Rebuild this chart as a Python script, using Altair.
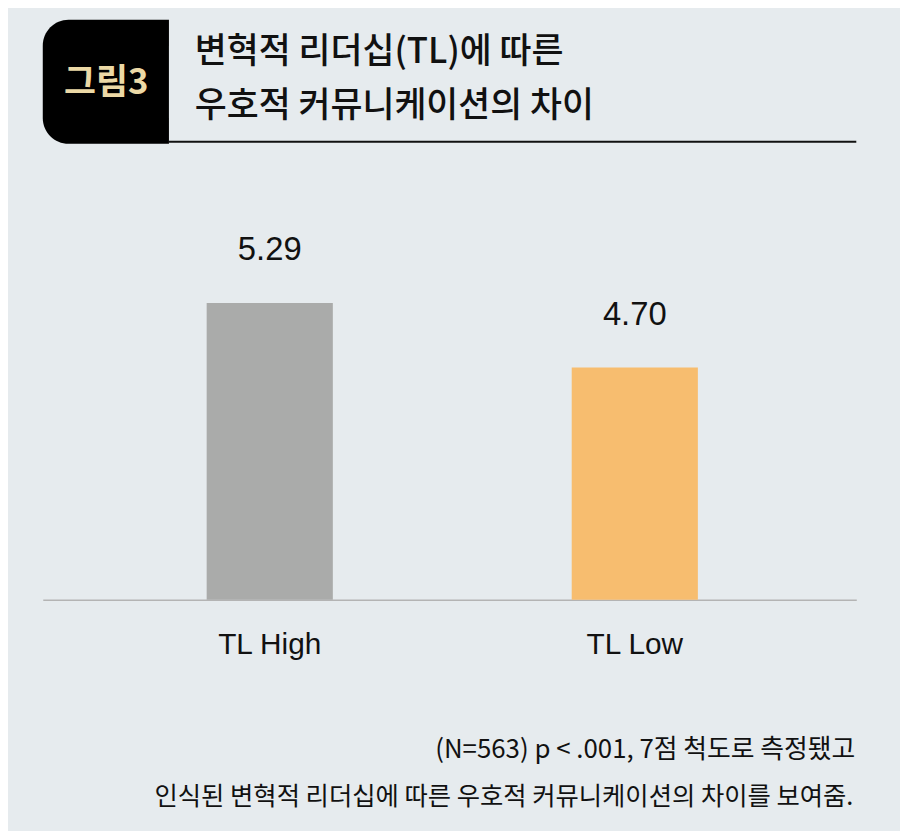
import altair as alt
import pandas as pd

# ---- data ----
categories = ["TL High", "TL Low"]
values = [5.29, 4.70]
value_labels = ["5.29", "4.70"]
bar_colors = ["#aaabaa", "#f7bd6f"]

title_lines = ["변혁적 리더십(TL)에 따른", "우호적 커뮤니케이션의 차이"]
badge_text = "그림3"
note_lines = ["(N=563) p < .001, 7점 척도로 측정됐고",
              "인식된 변혁적 리더십에 따른 우호적 커뮤니케이션의 차이를 보여줌."]

Y_MIN, Y_MAX = 2.58, 6.67
W, H = 819, 451
BG = "#e6ebee"
NUM_FONT = "Liberation Sans Narrow, Liberation Sans, Arial"
KR_FONT = "Noto Sans CJK KR"

df = pd.DataFrame({"cat": categories, "val": values, "lab": value_labels, "col": bar_colors})

xscale = alt.Scale(paddingInner=0.6544, paddingOuter=0.4415, align=0.5085)
xenc = alt.X("cat:N", sort=categories, title=None, scale=xscale,
             axis=alt.Axis(labelAngle=0, ticks=False, domainColor="#b4b4b4", domainWidth=1.5,
                           labelFont=NUM_FONT, labelFontSize=30, labelColor="#111111",
                           labelPadding=30, grid=False))
yenc = alt.Y("val:Q", scale=alt.Scale(domain=[Y_MIN, Y_MAX], zero=False, clamp=True), axis=None)

bars = alt.Chart(df).mark_bar().encode(
    x=xenc, y=yenc, y2=alt.datum(Y_MIN),
    color=alt.Color("col:N", scale=None),
)

labels = alt.Chart(df).mark_text(font=NUM_FONT, fontSize=33, color="#111111", dy=-53,
                                 baseline="middle").encode(
    x=alt.X("cat:N", sort=categories, scale=xscale), y=yenc, text="lab:N")

one = pd.DataFrame({"k": [0]})

badge = alt.Chart(one).mark_rect(color="#000000", cornerRadiusTopLeft=26,
                                 cornerRadiusBottomLeft=26).encode(
    x=alt.value(0), x2=alt.value(127), y=alt.value(-133), y2=alt.value(-8))

badge_lbl = alt.Chart(one).mark_text(font=KR_FONT, fontSize=35, fontWeight="bold",
                                     color="#ecd9a6", align="center", baseline="middle").encode(
    x=alt.value(64), y=alt.value(-69), text=alt.value(badge_text))

title_rule = alt.Chart(one).mark_rule(color="#111111", strokeWidth=2).encode(
    x=alt.value(127), x2=alt.value(W), y=alt.value(-10))

t1 = alt.Chart(one).mark_text(font=KR_FONT, fontSize=35, fontWeight=500, color="#111111",
                              align="left", baseline="middle").encode(
    x=alt.value(153), y=alt.value(-100), text=alt.value(title_lines[0]))
t2 = alt.Chart(one).mark_text(font=KR_FONT, fontSize=35, fontWeight=500, color="#111111",
                              align="left", baseline="middle").encode(
    x=alt.value(153), y=alt.value(-46), text=alt.value(title_lines[1]))

n1 = alt.Chart(one).mark_text(font=KR_FONT, fontSize=26, color="#111111",
                              align="right", baseline="middle").encode(
    x=alt.value(818), y=alt.value(602), text=alt.value(note_lines[0]))
n2 = alt.Chart(one).mark_text(font=KR_FONT, fontSize=25.5, color="#111111",
                              align="right", baseline="middle").encode(
    x=alt.value(816), y=alt.value(650), text=alt.value(note_lines[1]))

chart = alt.layer(bars, labels, badge, badge_lbl, title_rule, t1, t2, n1, n2).properties(
    width=W, height=H,
    autosize=alt.AutoSizeParams(type="none"),
    padding={"left": 35, "top": 142, "right": 44, "bottom": 230},
    background=BG,
).configure_view(stroke=None)

chart.save("out.html", embed_options={"renderer": "svg", "actions": False})
